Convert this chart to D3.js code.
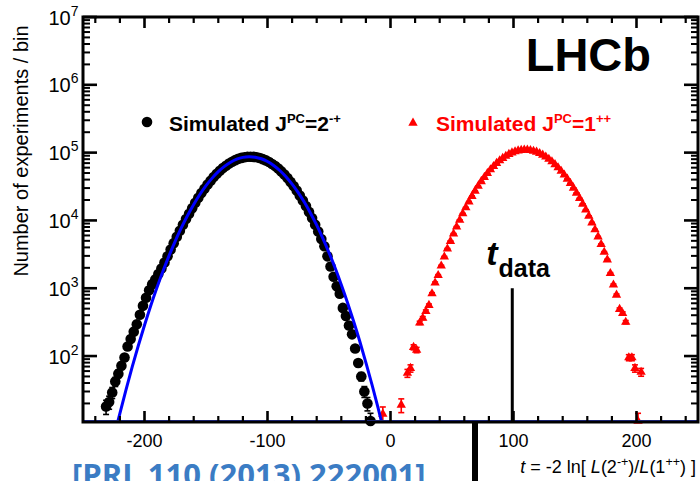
<!DOCTYPE html>
<html><head><meta charset="utf-8">
<script src="https://cdn.jsdelivr.net/npm/d3@7"></script>
<style>html,body{margin:0;padding:0;background:#fff;}svg{display:block;}</style>
</head><body><svg id="chart" width="700" height="481"></svg>
<script>
// Toy experiments: distribution of the test statistic t for the two spin-parity hypotheses.
// Histogram binning: 200 bins on [-250, 250].
const binWidth = 2.5;

// Simulated J^PC = 2^-+ (bin contents, first bin centred at blackStart)
const blackStart = -231.25;
const blackCounts = [
  18, 21, 29, 42, 55, 72, 95, 138, 178, 229, 295, 407, 550, 724, 933, 1148, 1349, 1622, 1950, 2399,
  2951, 3715, 4624, 5728, 7047, 8630, 10471, 12531, 15171, 18155, 21528, 25293, 29376, 33806, 38548,
  43551, 48753, 53951, 59156, 64121, 69024, 73451, 77446, 80910, 83560, 85507, 86696, 87096, 86497,
  85310, 83176, 80168, 76736, 72611, 68077, 63241, 58076, 52845, 47424, 42073, 36983, 32063, 27542,
  23335, 19634, 16255, 13366, 10814, 8670, 6839, 5321,
  4169, 2951, 2089, 1479, 1072, 832, 513, 389, 282, 209, 129, 79, 50, 30, 20, 11
];

// Simulated J^PC = 1^++
const redStart = -6.25;
const redCounts = [
  14, 0, 0, 0, 0, 0, 19, 0, 56, 66, 135, 123, 309, 363, 457, 562, 832, 1202, 1549, 2138,
  2897, 3802, 4932, 6339, 8054, 10116, 12589, 15488, 18880, 22751, 27164, 32063, 37497, 43251,
  49545, 56105, 62806, 69663, 76384, 82794, 88920, 94624, 99540, 103514, 106660, 108643, 109648,
  109396, 107895, 105439, 102094, 97724, 92470, 86696, 80353, 73621, 66834, 60117, 53456, 46989,
  40926, 35237, 30061, 25351, 21135, 17458, 14289, 11561, 9247, 7311, 5741, 4446, 3412,
  2630, 1660, 1122, 794, 490, 427, 316, 95, 95, 66, 11, 58
];

// Fitted curve to the 2^-+ distribution
const fitT = [-230, -225, -220, -215, -210, -205, -200, -195, -190, -185, -180, -175, -170, -165,
  -160, -155, -150, -145, -140, -135, -130, -125, -120, -115, -110, -105, -100, -95, -90, -85,
  -80, -75, -70, -65, -60, -55, -50, -45, -40, -35, -30, -25, -20, -15, -10, -5, 0];
const fitN = [2.5, 6.2, 14.3, 32, 69, 143, 284, 546, 1005, 1778, 3027, 4966, 7816, 11830,
  17219, 24100, 32510, 42070, 52360, 62660, 72110, 79980, 85110, 87100, 85700, 81100, 73960, 64710,
  54450, 44060, 34280, 25700, 18490, 12790, 8511, 5445, 3357, 1986, 1130, 618, 325, 165, 80,
  37.5, 16.9, 7.3, 3.0];

// Value of t observed in data
const tData = 99;
const tDataTop = 1000;

const xMajor = [-200, -100, 0, 100, 200];
const yExponents = [2, 3, 4, 5, 6, 7];

const FONT = "'Liberation Sans', Arial, Helvetica, sans-serif";
const svg = d3.select('#chart');

const frame = {left: 83, right: 698, top: 17, bottom: 422};
const yMin = 10.65, yMax = 1e7;
const x = d3.scaleLinear().domain([-250, 250]).range([frame.left, frame.right]);
const y = d3.scaleLog().domain([yMin, yMax]).range([frame.bottom, frame.top]);

svg.append('defs').append('clipPath').attr('id', 'frameClip')
  .append('rect').attr('x', frame.left).attr('y', frame.top)
  .attr('width', frame.right - frame.left).attr('height', frame.bottom - frame.top);

const toPoints = (start, counts) => counts
  .map((n, i) => ({t: start + i * binWidth, n}))
  .filter(d => d.n > 0);
const black = toPoints(blackStart, blackCounts);
const red = toPoints(redStart, redCounts);

// error bars (sqrt N), clipped to the frame
function errorBars(data, color) {
  const g = svg.append('g').attr('clip-path', 'url(#frameClip)')
    .attr('stroke', color).attr('stroke-width', 1.6);
  data.forEach(d => {
    const e = Math.sqrt(d.n);
    const lo = Math.max(d.n - e, 1), hi = d.n + e;
    const px = x(d.t);
    g.append('line').attr('x1', px).attr('x2', px).attr('y1', y(lo)).attr('y2', y(hi));
    g.append('line').attr('x1', px - 3).attr('x2', px + 3).attr('y1', y(hi)).attr('y2', y(hi));
    g.append('line').attr('x1', px - 3).attr('x2', px + 3).attr('y1', y(lo)).attr('y2', y(lo));
  });
}
errorBars(black, '#000');
errorBars(red, '#ff0000');

// markers
svg.append('g').selectAll('circle').data(black).join('circle')
  .attr('cx', d => x(d.t)).attr('cy', d => y(d.n)).attr('r', 5.3).attr('fill', '#000');

const tri = d3.symbol().type(d3.symbolTriangle).size(38);
svg.append('g').selectAll('path').data(red).join('path')
  .attr('d', tri).attr('transform', d => `translate(${x(d.t)},${y(d.n)})`)
  .attr('fill', '#ff0000');

// fit curve
const fitData = fitT.map((t, i) => ({t, n: fitN[i]}));
svg.append('path').datum(fitData)
  .attr('clip-path', 'url(#frameClip)')
  .attr('d', d3.line().x(d => x(d.t)).y(d => y(d.n)).curve(d3.curveNatural))
  .attr('fill', 'none').attr('stroke', '#0000ff').attr('stroke-width', 3);
// fit below the minimum runs along the floor
svg.append('line')
  .attr('x1', x(-250)).attr('x2', x(250)).attr('y1', y(yMin) - 1.5).attr('y2', y(yMin) - 1.5)
  .attr('stroke', '#3344dd').attr('stroke-width', 1.2);

// t_data marker
svg.append('line').attr('x1', x(tData)).attr('x2', x(tData))
  .attr('y1', y(tDataTop)).attr('y2', y(yMin))
  .attr('stroke', '#000').attr('stroke-width', 3);
const td = svg.append('text').attr('x', x(tData) - 26).attr('y', 265)
  .attr('font-family', FONT).attr('font-weight', 'bold').attr('fill', '#000');
td.append('tspan').text('t').attr('font-size', 34).attr('font-style', 'italic');
td.append('tspan').text('data').attr('font-size', 25).attr('dy', 12).attr('dx', 1);

// frame and ticks
const axes = svg.append('g').attr('stroke', '#000').attr('stroke-linecap', 'butt');
axes.append('rect').attr('x', frame.left).attr('y', frame.top)
  .attr('width', frame.right - frame.left).attr('height', frame.bottom - frame.top)
  .attr('fill', 'none').attr('stroke-width', 3);

const xMinor = d3.range(-240, 241, 20).filter(v => !xMajor.includes(v));
xMajor.forEach(v => {
  axes.append('line').attr('x1', x(v)).attr('x2', x(v)).attr('y1', frame.bottom).attr('y2', frame.bottom - 11).attr('stroke-width', 2.6);
  axes.append('line').attr('x1', x(v)).attr('x2', x(v)).attr('y1', frame.top).attr('y2', frame.top + 11).attr('stroke-width', 2.6);
});
xMinor.forEach(v => {
  axes.append('line').attr('x1', x(v)).attr('x2', x(v)).attr('y1', frame.bottom).attr('y2', frame.bottom - 6).attr('stroke-width', 2.2);
  axes.append('line').attr('x1', x(v)).attr('x2', x(v)).attr('y1', frame.top).attr('y2', frame.top + 6).attr('stroke-width', 2.2);
});

const yMinorVals = [];
for (let e = 1; e < 7; e++) for (let m = 2; m <= 9; m++) {
  const v = m * Math.pow(10, e);
  if (v > yMin) yMinorVals.push(v);
}
yExponents.forEach(e => {
  const py = y(Math.pow(10, e));
  axes.append('line').attr('x1', frame.left).attr('x2', frame.left + 14).attr('y1', py).attr('y2', py).attr('stroke-width', 2.6);
  axes.append('line').attr('x1', frame.right).attr('x2', frame.right - 14).attr('y1', py).attr('y2', py).attr('stroke-width', 2.6);
});
yMinorVals.forEach(v => {
  const py = y(v);
  axes.append('line').attr('x1', frame.left).attr('x2', frame.left + 7).attr('y1', py).attr('y2', py).attr('stroke-width', 2);
  axes.append('line').attr('x1', frame.right).attr('x2', frame.right - 7).attr('y1', py).attr('y2', py).attr('stroke-width', 2);
});

// tick labels
const labels = svg.append('g').attr('font-family', FONT).attr('fill', '#000');
xMajor.forEach(v => {
  labels.append('text').attr('x', x(v)).attr('y', 447).attr('text-anchor', 'middle')
    .attr('font-size', 18).text(v);
});
yExponents.forEach(e => {
  const t = labels.append('text').attr('x', 78.5).attr('y', y(Math.pow(10, e)) + 7.5)
    .attr('text-anchor', 'end').attr('font-size', 20);
  t.append('tspan').text('10');
  t.append('tspan').text(e).attr('font-size', 14).attr('dy', -9);
});

// rich text helper: segments with optional superscript / italic
function rich(sel, segs, size, supSize, supShift) {
  let up = false;
  segs.forEach(s => {
    const sp = sel.append('tspan').text(s.t);
    if (s.sup && !up) { sp.attr('dy', -supShift); up = true; }
    else if (!s.sup && up) { sp.attr('dy', supShift); up = false; }
    sp.attr('font-size', s.sup ? supSize : size);
    if (s.it) sp.attr('font-style', 'italic');
  });
}

// axis titles
svg.append('text').attr('transform', 'translate(27.5,151) rotate(-90)')
  .attr('text-anchor', 'middle').attr('font-family', FONT).attr('font-size', 20)
  .text('Number of experiments / bin');

const xt = svg.append('text').attr('x', 696).attr('y', 473).attr('text-anchor', 'end')
  .attr('font-family', FONT).attr('fill', '#000');
rich(xt, [{t: 't', it: true}, {t: ' = -2 ln[ '}, {t: 'L', it: true}, {t: '(2'}, {t: '-+', sup: true},
  {t: ')/'}, {t: 'L', it: true}, {t: '(1'}, {t: '++', sup: true}, {t: ') ]'}], 18, 12.5, 7);

// experiment label
svg.append('text').attr('x', 651).attr('y', 71).attr('text-anchor', 'end')
  .attr('font-family', FONT).attr('font-weight', 'bold').attr('font-size', 47).text('LHCb');

// legend
svg.append('circle').attr('cx', 147).attr('cy', 122).attr('r', 5.3).attr('fill', '#000');
const l1 = svg.append('text').attr('x', 169).attr('y', 130.5).attr('font-family', FONT)
  .attr('font-weight', 'bold').attr('fill', '#000');
rich(l1, [{t: 'Simulated J'}, {t: 'PC', sup: true}, {t: '=2'}, {t: '-+', sup: true}], 21, 13, 8);

svg.append('path').attr('d', tri).attr('transform', 'translate(413,123)').attr('fill', '#ff0000');
const l2 = svg.append('text').attr('x', 436).attr('y', 130.5).attr('font-family', FONT)
  .attr('font-weight', 'bold').attr('fill', '#ff0000');
rich(l2, [{t: 'Simulated J'}, {t: 'PC', sup: true}, {t: '=1'}, {t: '++', sup: true}], 21, 13, 8);

// reference line and citation at the foot
svg.append('rect').attr('x', 472).attr('y', 421).attr('width', 6).attr('height', 60).attr('fill', '#000');
svg.append('text').attr('x', 72).attr('y', 486).attr('font-family', "'Open Sans', 'Noto Sans', sans-serif")
  .attr('font-weight', 'bold').attr('font-size', 31).attr('fill', '#3b7cc4')
  .text('[PRL 110 (2013) 222001]');
</script></body></html>
